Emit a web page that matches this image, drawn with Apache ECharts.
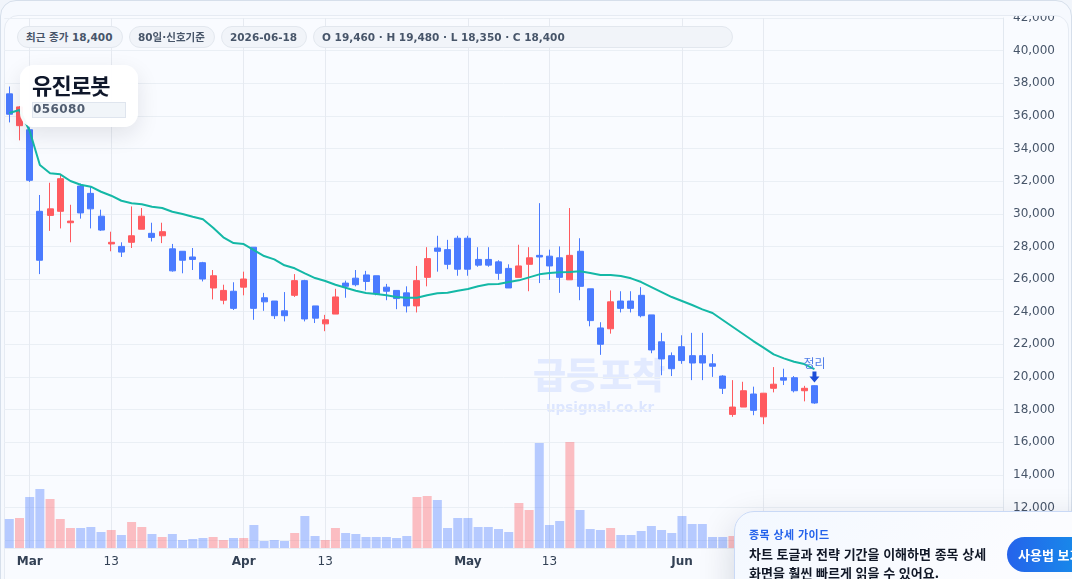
<!DOCTYPE html>
<html lang="ko">
<head>
<meta charset="utf-8">
<title>유진로봇 056080</title>
<script src="https://cdn.jsdelivr.net/npm/echarts@6/dist/echarts.min.js"></script>
<style>
  html, body { margin: 0; padding: 0; width: 1072px; height: 579px; overflow: hidden; background: #f1f5fb; }
  * { box-sizing: border-box; }
  body { font-family: "DejaVu Sans", "Noto Sans CJK KR", sans-serif; }
  .card { position: absolute; left: 0; top: 0; width: 1072px; height: 620px; background: #f6f9fe;
          border: 1px solid #d6dfeb; border-radius: 16px; overflow: hidden; }
  .panel { position: absolute; left: 4px; top: 15px; width: 1065px; height: 600px; background: #f9fbff;
           border: 1px solid #e6ebf3; border-radius: 14px; overflow: hidden; }
  #chart { position: absolute; left: 0; top: 16px; width: 1072px; height: 563px; }
  .chip { position: absolute; top: 26px; height: 22px; line-height: 20px; border-radius: 11px; background: #f1f4f9;
          border: 1px solid #e2e7ee; color: #475569; font-size: 10.5px; font-weight: 700; white-space: nowrap; padding-left: 8px; }
  .name { position: absolute; left: 20px; top: 65px; width: 118px; height: 62px; border-radius: 14px;
          background: rgba(255,255,255,.95); box-shadow: 0 8px 22px rgba(15,23,42,.10); }
  .name b { position: absolute; left: 12px; top: 3px; font: 700 22px/32px "Noto Sans CJK KR", sans-serif; color: #0f172a; letter-spacing: -.8px; }
  .name i { position: absolute; left: 12px; top: 37px; width: 94px; height: 16px; line-height: 12px; font-style: normal; font-weight: 700; font-size: 12px;
            letter-spacing: .4px; color: #525e71; background: #f1f5f9; border: 1px solid #dfe5ee; padding-left: 0; }
  .guide { position: absolute; left: 734px; top: 511px; width: 420px; height: 120px; border-radius: 20px 0 0 0;
           background: linear-gradient(135deg, #f3f8ff, #fbfcff 60%); border: 1px solid #c9d9f6;
           box-shadow: 0 12px 36px rgba(15,23,42,.16); color: #111827; }
  .guide .kicker { position: absolute; left: 14px; top: 13px; font: 700 11px/18px "Noto Sans CJK KR", sans-serif; color: #2563eb; letter-spacing: .4px; }
  .guide .msg { position: absolute; left: 14px; top: 31.5px; font: 700 13px/19px "Noto Sans CJK KR", sans-serif; white-space: nowrap; }
  .guide .btn { position: absolute; left: 272px; top: 25px; width: 120px; height: 35px; border-radius: 18px;
                background: linear-gradient(90deg, #2563eb, #0ea5e9); color: #fff; font: 700 13px/35px "Noto Sans CJK KR", sans-serif; padding-left: 11px; white-space: nowrap; }
</style>
</head>
<body>
<div class="card"></div>
<div class="panel"></div>
<div id="chart"></div>
<div class="chip" style="left:17px;width:106px">최근 종가 18,400</div>
<div class="chip" style="left:129px;width:86px">80일·신호기준</div>
<div class="chip" style="left:221px;width:86px">2026-06-18</div>
<div class="chip" style="left:313px;width:420px">O 19,460 · H 19,480 · L 18,350 · C 18,400</div>
<div class="name"><b>유진로봇</b><i>056080</i></div>
<div class="guide">
  <div class="kicker">종목 상세 가이드</div>
  <div class="msg">차트 토글과 전략 기간을 이해하면 종목 상세<br>화면을 훨씬 빠르게 읽을 수 있어요.</div>
  <div class="btn">사용법 보기</div>
</div>
<script>
// Daily prices, oldest first
const opens = [37350,35400,35150,30150,29900,30150,29450,31700,31250,29850,28150,28000,28250,29050,28800,28650,27850,27700,27350,27000,
  25450,24700,25250,25500,27950,24850,24650,24050,25000,25900,24350,23250,23850,25750,26050,26250,26200,25500,25300,25150,
  24350,26100,27900,27800,28500,28500,27200,27200,27050,26650,26100,26900,27450,27400,27300,25950,27700,25400,23000,22950,
  24650,24650,25000,23800,22150,21300,21850,21300,21300,20800,20050,17700,18150,18950,17550,19300,19950,19950,19150,19460];
const closes = [36100,36550,32050,27150,30300,32150,29550,30050,30300,29000,28250,27650,28650,29850,28550,28900,26500,27150,27200,26000,
  26200,25300,24200,26000,24200,24600,23750,23750,25900,23550,23600,23500,24900,25550,25650,25850,25100,25250,24800,24350,
  25900,27250,27700,26900,26600,26600,26850,26850,26350,25450,26800,27300,27350,26800,26100,27450,25550,23450,22000,24600,
  24200,24200,23750,21650,21100,20500,21000,20850,20850,20650,19300,18150,19150,17950,19000,19550,19800,19150,19300,18400];
const lows = [35600,34500,31950,26300,28950,29100,28250,29700,29100,28950,27700,27350,27900,29050,28300,28200,26450,26350,26550,25850,
  24750,24450,24100,25000,23500,24050,23550,23400,24900,23400,23300,22800,23850,24850,25550,25300,25000,24700,24150,23950,
  23950,25550,26450,26600,26200,26200,26750,26750,25950,25450,26100,25250,25750,25950,25150,25950,24700,23100,21350,22650,
  23950,23950,23650,21450,20100,20050,20800,19800,19800,20000,18950,17550,18150,17650,17100,19050,19500,19050,18500,18350];
const highs = [37800,36600,35300,31150,31900,32400,30550,31850,31700,30250,28900,28250,30450,30350,29450,29450,28150,27700,27900,27050,
  26550,25650,25800,26450,27950,25150,24650,25200,26300,25950,24350,23800,25400,25900,26550,26500,26200,25700,25300,25550,
  26800,27950,28650,28400,28650,28650,27950,27950,27150,26900,28100,27950,30650,27800,28000,30350,28500,25400,23350,25300,
  25250,25250,25500,23800,22700,21500,22550,22700,22700,21400,20100,19800,19700,19400,19000,20600,20500,20050,19450,19480];

// Moving average of the close
const movingAverage = [36175,36360,35070,32988,32478,32417,32006,31780,31657,31350,31105,30798,30639,30578,30431,30351,30124,29983,29818,29658,
  29143,28555,28205,28144,27776,27408,27206,26838,26654,26348,26059,25876,25649,25465,25281,25140,25078,24998,24895,24851,
  24851,24998,25120,25157,25281,25385,25550,25673,25692,25814,25918,26102,26286,26366,26409,26427,26470,26366,26243,26243,
  26182,26041,25814,25508,25201,24895,24649,24404,24140,23913,23485,23055,22626,22197,21798,21381,21136,20928,20787,20480];

// Trading volume in units of 10,000 shares
const volumes = [87,90,153,177,147,87,60,60,63,48,54,39,78,63,42,33,42,24,27,30,
  33,24,30,30,69,21,24,21,45,96,36,24,60,45,42,33,33,33,30,36,
  153,156,144,60,90,90,63,63,57,48,135,114,315,69,81,318,114,57,54,60,
  39,39,51,66,54,45,96,72,72,33,33,36,42,36,60,48,30,36,24,48];

// Date labels shown on the time axis, keyed by bar position
const tickLabels = { 2: 'Mar', 10: '13', 23: 'Apr', 31: '13', 45: 'May', 53: '13', 66: 'Jun', 74: '13' };
const monthNames = ['Mar', 'Apr', 'May', 'Jun'];
const signalLabel = '정리';

const UP = '#ff5a5f', DOWN = '#4a7bff', MA = '#14b8a6';
const FONT = '"DejaVu Sans", "Noto Sans CJK KR", sans-serif';
const EMPTY_SLOTS = 18;                     // free room to the right of the last bar
const categories = Array.from({ length: opens.length + EMPTY_SLOTS }, (_, i) => String(i));
const tickPositions = Object.keys(tickLabels).map(Number);
const candles = opens.map((o, i) => [o, closes[i], lows[i], highs[i]]);
const verticalLines = {
  silent: true, symbol: 'none', animation: false, z: 1,
  label: { show: false }, emphasis: { disabled: true },
  lineStyle: { color: '#e6eaf1', width: 1, type: 'solid' },
  data: tickPositions.map(i => ({ xAxis: i }))
};

const chart = echarts.init(document.getElementById('chart'), null, { renderer: 'canvas' });
chart.setOption({
  animation: false,
  textStyle: { fontFamily: FONT },
  grid: [
    { left: 4.2, right: 69, top: 2, height: 522, outerBoundsMode: 'none' },
    { left: 4.2, right: 69, top: 426, height: 106, outerBoundsMode: 'none' }
  ],
  graphic: [
    { type: 'text', z: 0, left: 533, top: 341, silent: true,
      style: { text: '급등포착', fill: 'rgba(74,123,255,.13)', font: '800 36px "Noto Sans CJK KR", sans-serif' } },
    { type: 'text', z: 0, left: 546, top: 385, silent: true,
      style: { text: 'upsignal.co.kr', fill: 'rgba(74,123,255,.16)', font: '700 13.5px "DejaVu Sans", sans-serif' } }
  ],
  xAxis: [
    { type: 'category', gridIndex: 0, data: categories, boundaryGap: true,
      axisLabel: { show: false }, axisLine: { show: false }, axisTick: { show: false }, splitLine: { show: false } },
    { type: 'category', gridIndex: 1, data: categories, boundaryGap: true,
      axisLine: { show: true, lineStyle: { color: '#e8edf4' } }, axisTick: { show: false }, splitLine: { show: false },
      axisLabel: {
        margin: 8, fontFamily: FONT, fontSize: 12, color: '#334155',
        interval: (i) => i in tickLabels,
        formatter: (value, i) => {
          const t = tickLabels[i];
          return monthNames.includes(t) ? '{month|' + t + '}' : t;
        },
        rich: { month: { fontFamily: FONT, fontSize: 12, fontWeight: 700, color: '#334155' } }
      } }
  ],
  yAxis: [
    { type: 'value', gridIndex: 0, position: 'right', min: 10000, max: 42000, interval: 2000,
      axisLine: { show: true, lineStyle: { color: '#e2e8f0' } }, axisTick: { show: false },
      splitLine: { show: true, lineStyle: { color: '#eaeff5', width: 1 } },
      axisLabel: { margin: 10, padding: [2, 0, 0, 0], fontFamily: FONT, fontSize: 12, color: '#475569',
        formatter: (v) => v.toLocaleString('en-US') } },
    { type: 'value', gridIndex: 1, position: 'right', min: 0, max: 318,
      axisLine: { show: true, lineStyle: { color: '#e2e8f0' } }, axisTick: { show: false },
      axisLabel: { show: false }, splitLine: { show: false } }
  ],
  series: [
    { type: 'bar', name: '거래량', xAxisIndex: 1, yAxisIndex: 1, data: volumes, barWidth: 9, z: 2,
      itemStyle: { color: (p) => closes[p.dataIndex] > opens[p.dataIndex] ? UP : DOWN, opacity: 0.38 },
      markLine: verticalLines },
    { type: 'candlestick', name: '유진로봇', xAxisIndex: 0, yAxisIndex: 0, data: candles, barWidth: 6.5, z: 3,
      itemStyle: { color: UP, color0: DOWN, borderColor: UP, borderColor0: DOWN, borderWidth: 1 },
      markLine: verticalLines,
      markPoint: {
        silent: true, animation: false,
        symbol: 'path://M3 0h4v5h3l-5 6-5-6h3z', symbolSize: [10, 11],
        itemStyle: { color: '#1d4ed8' },
        label: { show: true, position: 'top', distance: 2, formatter: signalLabel,
          fontFamily: '"Noto Sans CJK KR", sans-serif', fontSize: 12, color: '#4f7de8' },
        data: [{ coord: [79, 19990] }]
      } },
    { type: 'line', name: 'MA', xAxisIndex: 0, yAxisIndex: 0, data: movingAverage, z: 4,
      showSymbol: false, smooth: false, lineStyle: { color: MA, width: 2 } }
  ]
});
</script>
</body>
</html>
